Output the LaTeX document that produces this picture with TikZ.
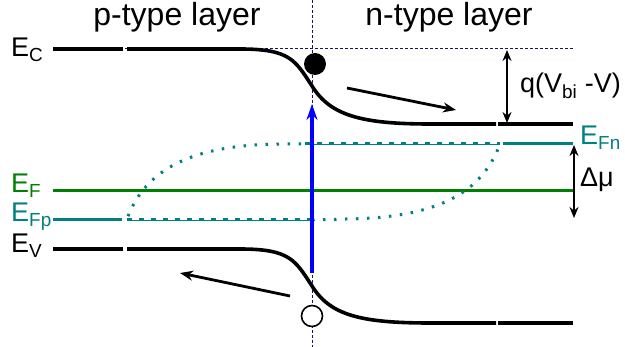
\documentclass[tikz,border=0pt]{standalone}
\usepackage{fontspec}
\setmainfont{Liberation Sans}
\usetikzlibrary{arrows.meta}
\definecolor{tealc}{RGB}{0,128,128}
\definecolor{greenc}{RGB}{0,128,0}
\definecolor{navyc}{RGB}{20,20,110}
\begin{document}
\begin{tikzpicture}[x=1pt,y=-1pt,
  band/.style={line width=3.6pt,black},
  guide/.style={line width=1pt,navyc,dash pattern=on 3pt off 2pt},
  qfl/.style={line width=3pt,tealc,dash pattern=on 2.5pt off 8.5pt},
  qthin/.style={line width=0.9pt,tealc},
  qdash/.style={line width=3pt,tealc,dash pattern=on 5pt off 7pt},
  lvl/.style={line width=3pt},
  harrow/.style={line width=2.8pt,black,-{Stealth[length=13pt,width=10pt]}},
  darrow/.style={line width=2.4pt,black,{Stealth[length=11pt,width=9pt]}-{Stealth[length=11pt,width=9pt]}},
  title/.style={font=\fontsize{32}{36}\selectfont,anchor=base},
  lab/.style={font=\fontsize{27}{30}\selectfont,anchor=base west,inner sep=0pt}]
\useasboundingbox (0,0) rectangle (625,347);
% guides
\coordinate (vt) at (312,0); \coordinate (vb) at (312,347);
\draw[guide] (vt) -- (vb);
\coordinate (gl) at (125,49); \coordinate (gr) at (573,49);
\draw[guide] (gl) -- (gr);
% titles
\node[title] (tp) at (177,26) {p-type layer};
\node[title] (tn) at (449,26) {n-type layer};
% E_C band
\draw[band] (53,49) -- (123,49);
\draw[band] (127,49) -- (240,49) .. controls (290,49) and (295,60) .. (312,86)
  .. controls (330,115) and (360,124) .. (430,124) -- (496,124);
\draw[band] (498,124) -- (573,124);
% E_V band
\draw[band] (53,249) -- (123,249);
\draw[band] (127,249) -- (240,249) .. controls (290,249) and (295,260) .. (312,286)
  .. controls (330,315) and (360,323) .. (430,323) -- (496,323);
\draw[band] (498,323) -- (573,323);
% E_F
\draw[lvl,greenc] (53,191) -- (573,191);
% E_Fn
\draw[lvl,tealc] (503,144) -- (573,144);
\draw[qthin] (305,144) -- (500,144);
\draw[qdash] (305,144) -- (500,144);
\draw[qfl] (312,144) -- (280,144) .. controls (190,145) and (145,170) .. (127,219);
% E_Fp
\draw[lvl,tealc] (53,220) -- (122,220);
\draw[qthin] (127,220) -- (315,220);
\draw[qdash] (127,220) -- (315,220);
\draw[qfl] (312,220) -- (346,219) .. controls (437,218) and (482,193) .. (500,144);
% blue arrow
\coordinate (ba) at (312,273); \coordinate (bb) at (312,104);
\draw[line width=4pt,blue,-{Stealth[length=16pt,width=11pt]}] (ba) -- (bb);
% carriers
\node[circle,fill=black,minimum size=22pt,inner sep=0pt] (el) at (315,64) {};
\node[circle,draw=black,fill=white,line width=1.6pt,minimum size=21pt,inner sep=0pt] (ho) at (312,316) {};
% motion arrows
\coordinate (ea) at (347,88); \coordinate (eb) at (456,110);
\draw[harrow] (ea) -- (eb);
\coordinate (ha) at (290,296); \coordinate (hb) at (180,273);
\draw[harrow] (ha) -- (hb);
% double arrows
\coordinate (qa) at (507,50); \coordinate (qb) at (507,123);
\draw[darrow] (qa) -- (qb);
\coordinate (da) at (574,145); \coordinate (db) at (574,218);
\draw[darrow] (da) -- (db);
% labels
\node[lab] (lec) at (11,57) {E\textsubscript{C}};
\node[lab,text=greenc] (lef) at (11,193) {E\textsubscript{F}};
\node[lab,text=tealc] (lefp) at (11,222) {E\textsubscript{Fp}};
\node[lab] (lev) at (11,253) {E\textsubscript{V}};
\node[lab,text=tealc] (lefn) at (580,145) {E\textsubscript{Fn}};
\node[lab] (ldm) at (580,187) {Δμ};
\node[lab] (lq) at (520,93) {q(V\textsubscript{bi} -V)};
\end{tikzpicture}
\end{document}
